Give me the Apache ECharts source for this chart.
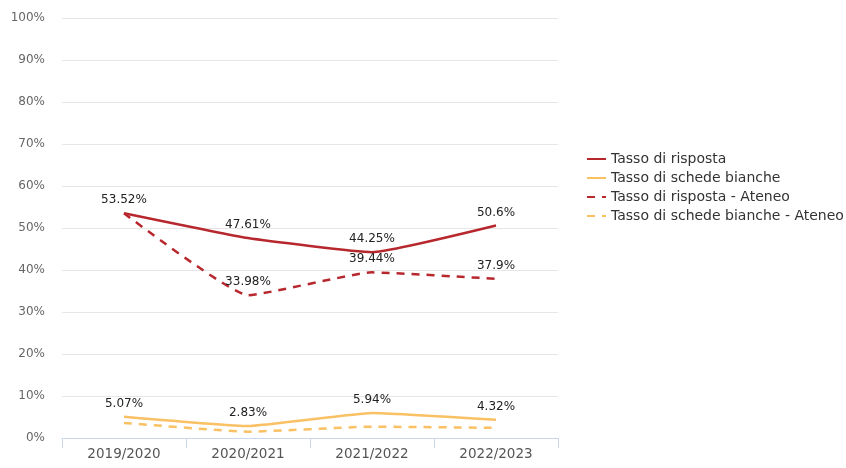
<!DOCTYPE html>
<html lang="it">
<head>
<meta charset="UTF-8">
<title>Tassi</title>
<script src="https://cdn.jsdelivr.net/npm/echarts@6/dist/echarts.min.js"></script>
<style>
html, body { margin: 0; padding: 0; background: #fff; }
#main { width: 846px; height: 468px; }
</style>
</head>
<body>
<div id="main"></div>
<script>
// dati
var anni = ['2019/2020', '2020/2021', '2021/2022', '2022/2023'];
var risposta = [53.52, 47.61, 44.25, 50.6];
var bianche = [5.07, 2.83, 5.94, 4.32];
var rispostaAteneo = [53.52, 33.98, 39.44, 37.9];
var biancheAteneo = [3.6, 1.5, 2.7, 2.4];

var rosso = '#b7282e';
var giallo = '#f9c064';
var font = 'DejaVu Sans';

function fmt(p) { return p.value + '%'; }

var chart = echarts.init(document.getElementById('main'));

var labelStyle = {
    show: true,
    position: 'top',
    distance: 6,
    color: '#222',
    fontSize: 12,
    fontFamily: font,
    formatter: fmt
};

// simbolo trasparente: serve solo per attaccare le etichette
function serie(nome, dati, colore, tratteggio, etichette) {
    return {
        name: nome,
        type: 'line',
        data: dati,
        smooth: 0.12,
        symbol: 'circle',
        symbolSize: 2,
        showSymbol: true,
        itemStyle: { color: 'rgba(0,0,0,0)', borderWidth: 0 },
        lineStyle: { width: 2.5, color: colore, type: tratteggio ? [8, 7] : 'solid' },
        label: etichette ? labelStyle : { show: false },
        emphasis: { disabled: true }
    };
}

chart.setOption({
    animation: false,
    textStyle: { fontFamily: font },
    legend: {
        orient: 'vertical',
        left: 581,
        top: 147,
        itemWidth: 19,
        itemHeight: 10,
        itemGap: 5,
        itemStyle: { opacity: 0 },
        textStyle: { fontSize: 14, color: '#333', fontFamily: font },
        data: ['Tasso di risposta', 'Tasso di schede bianche',
               'Tasso di risposta - Ateneo', 'Tasso di schede bianche - Ateneo']
    },
    grid: { left: 62, right: 288, top: 18, bottom: 30 },
    xAxis: {
        type: 'category',
        data: anni,
        boundaryGap: true,
        axisLine: { lineStyle: { color: '#ccd6eb' } },
        axisTick: { show: true, length: 10, lineStyle: { color: '#ccd6eb' } },
        axisLabel: { color: '#555', fontSize: 13.5, margin: 9, fontFamily: font }
    },
    yAxis: {
        type: 'value',
        min: 0,
        max: 100,
        interval: 10,
        axisLine: { show: false },
        axisTick: { show: false },
        axisLabel: { color: '#666', fontSize: 12, margin: 17, fontFamily: font, formatter: '{value}%' },
        splitLine: { lineStyle: { color: '#e6e6e6' } }
    },
    series: [
        serie('Tasso di risposta', risposta, rosso, false, true),
        serie('Tasso di schede bianche', bianche, giallo, false, true),
        serie('Tasso di risposta - Ateneo', rispostaAteneo.map(function (v, i) {
            return i === 0 ? { value: v, label: { show: false } } : v;
        }), rosso, true, true),
        serie('Tasso di schede bianche - Ateneo', biancheAteneo, giallo, true, false)
    ]
});
</script>
</body>
</html>
